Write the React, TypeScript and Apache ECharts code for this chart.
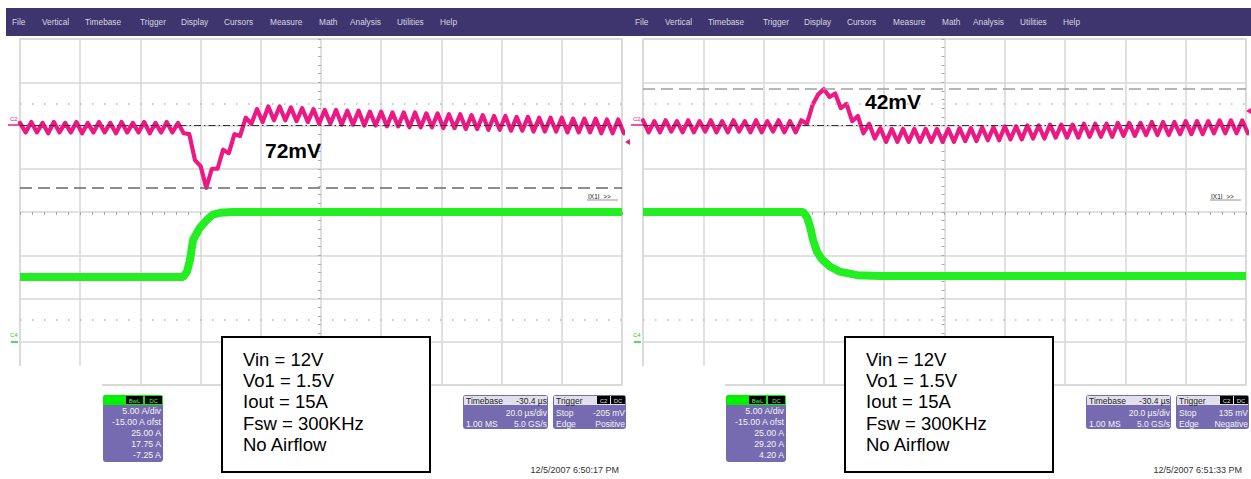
import React, { useEffect, useRef } from "react";
import * as echarts from "echarts";

const FONT = '"Liberation Sans", Arial, Helvetica, sans-serif';

// ---------- data ----------
const MENU_ITEMS = ["File", "Vertical", "Timebase", "Trigger", "Display", "Cursors", "Measure", "Math", "Analysis", "Utilities", "Help"];

// time axis (µs), C2 axis (mV), C4 axis (A)
const TIME_MIN_US = 0;
const TIME_MAX_US = 200;
const TIME_DIV_US = 20;
const C2_MIN_MV = -300;
const C2_MAX_MV = 100;
const C2_DIV_MV = 50;
const C4_MIN_A = -5;
const C4_MAX_A = 35;
const C4_DIV_A = 5;

// C2 samples are taken every half ripple period
const SAMPLE_STEP_US = 1.875;

const PINK_LEFT_MV = [
  3, -8, 4, -8, 3, -9, 4, -8, 3, -8,
  4, -9, 3, -8, 4, -8, 3, -9, 4, -8,
  3, -8, 4, -9, 3, -8, 4, -8, 3, -9,
  -10, -40, -47, -72, -50, -50, -28, -32, -10, -12,
  9, 2, 19, 4, 22, 6, 22, 6, 21, 5,
  20, 4, 19, 2, 18, 2, 18, 1, 17, 1,
  17, 0, 16, 0, 16, -1, 15, -1, 15, -2,
  15, -2, 14, -2, 14, -3, 13, -3, 13, -4,
  12, -4, 12, -5, 11, -5, 11, -6, 10, -6,
  10, -7, 9, -7, 9, -7, 9, -8, 8, -8,
  8, -8, 8, -9, 7, -9, 7, -9,
];

const PINK_RIGHT_MV = [
  6, -8, 5, -8, 6, -7, 5, -8, 6, -8,
  5, -7, 6, -8, 5, -8, 6, -7, 5, -8,
  6, -8, 5, -7, 6, -8, 5, -8, 6, 2,
  24, 36, 42, 33, 37, 20, 25, 5, 11, -9,
  2, -15, -3, -19, -4, -19, -4, -19, -4, -19,
  -4, -19, -4, -19, -4, -19, -3, -18, -3, -18,
  -2, -17, -2, -17, -1, -16, -1, -16, 0, -15,
  0, -15, 1, -14, 1, -14, 1, -14, 2, -13,
  2, -13, 2, -13, 3, -12, 3, -12, 3, -11,
  4, -11, 4, -11, 4, -10, 5, -10, 5, -10,
  5, -9, 6, -9, 6, -9, 6, -9,
];

const GREEN_LEFT_A = [
  [0, 7.5], [54.2, 7.5], [55.5, 8.1], [56.5, 9.5], [57.5, 11.8], [59.8, 13.2],
  [62.1, 14.1], [64.1, 14.7], [66.4, 14.9], [70.8, 15.0], [200, 15.0],
];

const GREEN_RIGHT_A = [
  [0, 15.0], [52.1, 15.0], [53.1, 15.0], [54.4, 14.4], [55.4, 13.3], [56.4, 11.8],
  [57.7, 10.4], [59.4, 9.5], [62.0, 8.7], [65.3, 8.1], [71.0, 7.7], [78.6, 7.6], [200, 7.6],
];

const CURSOR_MV = [-72, 42];
const CURSOR_LABELS = ["72mV", "42mV"];
const REF_C2_MV = 25;
const REF_C4_A = 2.5;

const INFO_LINES = ["Vin = 12V", "Vo1 = 1.5V", "Iout = 15A", "Fsw = 300KHz", "No Airflow"];
const C4_PANEL_LEFT = ["5.00 A/div", "-15.00 A ofst", "25.00 A", "17.75 A", "-7.25 A"];
const C4_PANEL_RIGHT = ["5.00 A/div", "-15.00 A ofst", "25.00 A", "29.20 A", "4.20 A"];
const TIMEBASE_LINES = ["-30.4 µs", "20.0 µs/div", "1.00 MS", "5.0 GS/s"];
const TRIGGER_LEVELS = ["-205 mV", "135 mV"];
const TRIGGER_SLOPES = ["Positive", "Negative"];
const TIMESTAMPS = ["12/5/2007 6:50:17 PM", "12/5/2007 6:51:33 PM"];

// ---------- layout / style ----------
const MENU_X = [12, 42, 85, 140, 181, 224, 270, 319, 350, 397, 440];
const GRID_TOP = 39;
const GRID_H = 346;
const SCOPES = [
  { dx: 0, left: 20, width: 602 },
  { dx: 623, left: 643, width: 603 },
];
const LABEL_POS = [
  [265, 150],
  [865, 101],
];
const PINK = "#ec1884";
const GREEN = "#22ee22";
const GRID_COLOR = "#d7d7d7";
const TICK_COLOR = "#a8a8a8";
const MENU_BG = "#3e356e";
const MENU_TEXT = "#d6d6e2";
const PANEL_BG = "#766bb0";
const PANEL_HEAD = "#e2e0ec";
const CURSOR_COLORS = ["#6a6a6a", "#a0a0a0"];

function rect(x: number, y: number, w: number, h: number, fill: string, extra: any = {}) {
  return {
    type: "rect",
    z: extra.z ?? 50,
    silent: true,
    shape: { x, y, width: w, height: h, r: extra.r ?? 0 },
    style: { fill, stroke: extra.stroke ?? null, lineWidth: extra.lw ?? 0 },
  };
}

function text(x: number, y: number, t: string, size: number, fill: string, align = "left", weight = "normal") {
  return {
    type: "text",
    z: 60,
    silent: true,
    x,
    y,
    style: {
      text: t,
      font: `${weight} ${size}px ${FONT}`,
      fill,
      align,
      verticalAlign: "middle",
      textAlign: align,
      textVerticalAlign: "middle",
    },
  };
}

function buildGraphic() {
  const els: any[] = [];
  SCOPES.forEach((s, g) => {
    const dx = s.dx;
    // menu bar
    els.push(rect(6 + dx, 8, 624, 28, MENU_BG));
    MENU_ITEMS.forEach((m, i) => els.push(text(MENU_X[i] + dx, 22, m, 8.3, MENU_TEXT)));

    // white cover at lower-left of the graticule
    els.push(rect(dx, 366, 102, 26, "#ffffff", { z: 40 }));

    // channel markers
    els.push(text(10 + dx, 119, "C2", 6, PINK));
    els.push({ type: "line", z: 60, silent: true, shape: { x1: 8 + dx, y1: 125, x2: 20 + dx, y2: 125 }, style: { stroke: PINK, lineWidth: 1.5 } });
    els.push(text(10 + dx, 335, "C4", 6, "#22cc22"));
    els.push({ type: "line", z: 60, silent: true, shape: { x1: 11 + dx, y1: 342, x2: 18 + dx, y2: 342 }, style: { stroke: "#22cc22", lineWidth: 1.5 } });
    const ty = g === 0 ? 142 : 111;
    const tx = g === 0 ? 630 : 1251;
    els.push({ type: "polygon", z: 60, silent: true, shape: { points: [[tx, ty - 3], [tx, ty + 3], [tx - 5, ty]] }, style: { fill: PINK } });

    // small cursor readout tag
    els.push(text(588 + dx, 196, "IX1I  >>", 6.5, "#222"));
    els.push({ type: "line", z: 60, silent: true, shape: { x1: 587 + dx, y1: 200, x2: 618 + dx, y2: 200 }, style: { stroke: "#777", lineWidth: 0.8 } });

    // cursor label
    els.push(text(LABEL_POS[g][0], LABEL_POS[g][1], CURSOR_LABELS[g], 21, "#000", "left", "bold"));

    // C4 channel panel
    els.push(rect(103 + dx, 395, 60, 67, PANEL_BG, { r: 3 }));
    els.push(rect(103 + dx, 395, 60, 10, "#00f000", { r: [3, 3, 0, 0] }));
    els.push(rect(126 + dx, 396, 17, 8, "#000"));
    els.push(rect(145 + dx, 396, 17, 8, "#000"));
    els.push(text(134.5 + dx, 400.5, "BwL", 6, "#44ff44", "center"));
    els.push(text(153.5 + dx, 400.5, "DC", 6, "#44ff44", "center"));
    const c4 = g === 0 ? C4_PANEL_LEFT : C4_PANEL_RIGHT;
    c4.forEach((l, i) => els.push(text(161 + dx, 411 + i * 11, l, 8.8, "#f4f4f4", "right")));

    // timebase panel
    els.push(rect(463 + dx, 395, 85, 34, PANEL_BG, { r: 3 }));
    els.push(rect(464 + dx, 396, 83, 9, PANEL_HEAD));
    els.push(text(466 + dx, 400.5, "Timebase", 8.5, "#222"));
    els.push(text(547 + dx, 400.5, TIMEBASE_LINES[0], 8.5, "#222", "right"));
    els.push(text(547 + dx, 413, TIMEBASE_LINES[1], 8.5, "#f4f4f4", "right"));
    els.push(text(466 + dx, 423.5, TIMEBASE_LINES[2], 8.5, "#f4f4f4"));
    els.push(text(547 + dx, 423.5, TIMEBASE_LINES[3], 8.5, "#f4f4f4", "right"));

    // trigger panel
    els.push(rect(553 + dx, 395, 73, 34, PANEL_BG, { r: 3 }));
    els.push(rect(554 + dx, 396, 71, 9, PANEL_HEAD));
    els.push(text(556 + dx, 400.5, "Trigger", 8.5, "#222"));
    els.push(rect(597 + dx, 396, 13, 8, "#000"));
    els.push(rect(611 + dx, 396, 14, 8, "#000"));
    els.push(text(603.5 + dx, 400.5, "C2", 6, "#ddd", "center"));
    els.push(text(618 + dx, 400.5, "DC", 6, "#ddd", "center"));
    els.push(text(556 + dx, 413, "Stop", 8.5, "#f4f4f4"));
    els.push(text(625 + dx, 413, TRIGGER_LEVELS[g], 8.5, "#f4f4f4", "right"));
    els.push(text(556 + dx, 423.5, "Edge", 8.5, "#f4f4f4"));
    els.push(text(625 + dx, 423.5, TRIGGER_SLOPES[g], 8.5, "#f4f4f4", "right"));

    // timestamp
    els.push(text(619 + dx, 470, TIMESTAMPS[g], 9, "#333", "right"));

    // info box
    els.push(rect(222 + dx, 337, 208, 135, "#ffffff", { stroke: "#000", lw: 2, z: 55 }));
    INFO_LINES.forEach((l, i) => els.push(text(243 + dx, 359 + i * 21.4, l, 18.5, "#000")));
  });
  return els;
}

function buildOption() {
  const grid: any[] = [];
  const xAxis: any[] = [];
  const yAxis: any[] = [];
  const series: any[] = [];
  const hidden = { axisLine: { show: false, onZero: false }, axisLabel: { show: false } };

  SCOPES.forEach((s, g) => {
    grid.push({
      left: s.left,
      top: GRID_TOP,
      width: s.width,
      height: GRID_H,
      show: true,
      borderColor: GRID_COLOR,
      borderWidth: 1.5,
      backgroundColor: "#ffffff",
    });
    // main time axis (grid lines)
    xAxis.push({
      gridIndex: g, type: "value", position: "top", min: TIME_MIN_US, max: TIME_MAX_US, interval: TIME_DIV_US,
      ...hidden, axisTick: { show: false },
      splitLine: { show: true, lineStyle: { color: GRID_COLOR, width: 1.5 } },
    });
    // center horizontal tick axis
    xAxis.push({
      gridIndex: g, type: "value", position: "bottom", offset: -GRID_H / 2, min: TIME_MIN_US, max: TIME_MAX_US, interval: TIME_DIV_US,
      ...hidden, splitLine: { show: false },
      axisTick: { show: true, length: 3, lineStyle: { color: TICK_COLOR } },
      minorTick: { show: true, splitNumber: 5, length: 3, lineStyle: { color: TICK_COLOR } },
    });
    // C2 (mV) with grid lines
    yAxis.push({
      gridIndex: g, type: "value", position: "left", min: C2_MIN_MV, max: C2_MAX_MV, interval: C2_DIV_MV,
      ...hidden, axisTick: { show: false },
      splitLine: { show: true, lineStyle: { color: GRID_COLOR, width: 1.5 } },
    });
    // C4 (A)
    yAxis.push({
      gridIndex: g, type: "value", position: "right", min: C4_MIN_A, max: C4_MAX_A, interval: C4_DIV_A,
      ...hidden, axisTick: { show: false }, splitLine: { show: false },
    });
    // center vertical tick axis
    yAxis.push({
      gridIndex: g, type: "value", position: "left", offset: -s.width / 2, min: C2_MIN_MV, max: C2_MAX_MV, interval: C2_DIV_MV,
      ...hidden, splitLine: { show: false },
      axisTick: { show: true, length: 3, lineStyle: { color: TICK_COLOR } },
      minorTick: { show: true, splitNumber: 5, length: 3, lineStyle: { color: TICK_COLOR } },
    });

    const xi = g * 2;
    const yC2 = g * 3;
    const yC4 = g * 3 + 1;
    const pink = g === 0 ? PINK_LEFT_MV : PINK_RIGHT_MV;
    const green = g === 0 ? GREEN_LEFT_A : GREEN_RIGHT_A;

    // reference lines (C2)
    series.push({
      type: "line", xAxisIndex: xi, yAxisIndex: yC2, z: 1, silent: true,
      data: [[TIME_MIN_US, 0], [TIME_MAX_US, 0]], showSymbol: false, lineStyle: { opacity: 0 },
      markLine: {
        silent: true, symbol: "none", label: { show: false }, animation: false,
        data: [
          { yAxis: 0, lineStyle: { color: "#333", width: 1, type: [7, 3, 1.5, 3] } },
          { yAxis: CURSOR_MV[g], lineStyle: { color: CURSOR_COLORS[g], width: 1.6, type: [12, 6] } },
          { yAxis: REF_C2_MV, lineStyle: { color: "#b8b8b8", width: 1.5, type: [1.5, 10.5] } },
        ],
      },
    });
    // reference line (C4)
    series.push({
      type: "line", xAxisIndex: xi, yAxisIndex: yC4, z: 1, silent: true,
      data: [[TIME_MIN_US, 0], [TIME_MAX_US, 0]], showSymbol: false, lineStyle: { opacity: 0 },
      markLine: {
        silent: true, symbol: "none", label: { show: false }, animation: false,
        data: [{ yAxis: REF_C4_A, lineStyle: { color: "#b8b8b8", width: 1.5, type: [1.5, 10.5] } }],
      },
    });
    // C4 current trace
    series.push({
      type: "line", xAxisIndex: xi, yAxisIndex: yC4, z: 3, silent: true, clip: true,
      data: green, showSymbol: false, lineStyle: { color: GREEN, width: 8 },
    });
    // C2 voltage trace
    series.push({
      type: "line", xAxisIndex: xi, yAxisIndex: yC2, z: 4, silent: true, clip: true,
      data: pink.map((v, i) => [i * SAMPLE_STEP_US, v]), showSymbol: false,
      lineStyle: { color: PINK, width: 4.2, join: "round", cap: "round" },
    });
  });

  return {
    animation: false,
    backgroundColor: "#ffffff",
    grid,
    xAxis,
    yAxis,
    series,
    graphic: { elements: buildGraphic() },
  };
}

export default function App() {
  const ref = useRef<HTMLDivElement>(null);
  useEffect(() => {
    if (!ref.current) return;
    const chart = echarts.init(ref.current, undefined, { renderer: "svg" });
    chart.setOption(buildOption() as any);
    return () => chart.dispose();
  }, []);
  return (
    <div
      ref={ref}
      style={{ position: "fixed", left: 0, top: 0, width: 1251, height: 479, background: "#fff" }}
    />
  );
}
